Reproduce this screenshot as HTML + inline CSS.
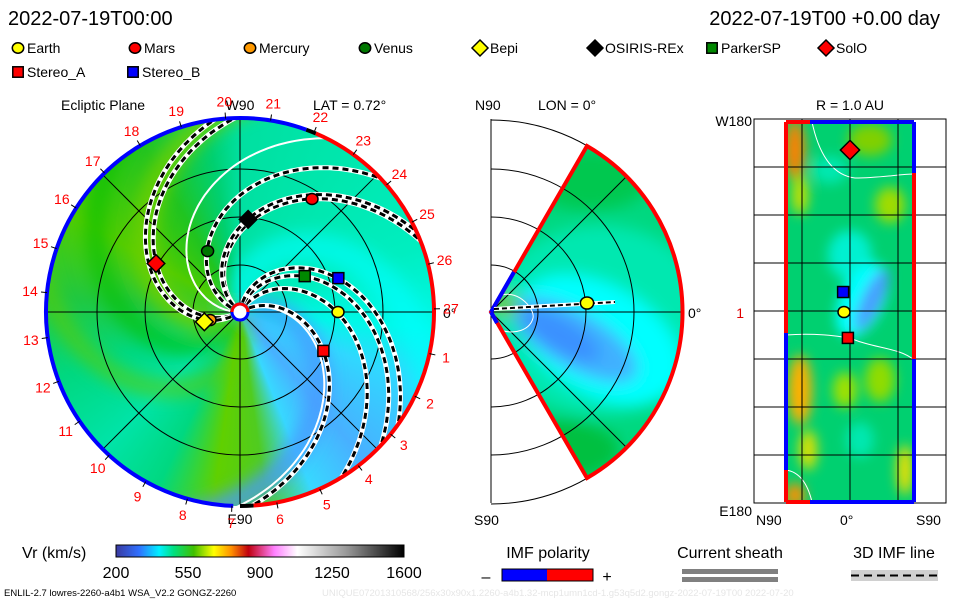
<!DOCTYPE html>
<html><head><meta charset="utf-8">
<style>
body{margin:0;background:#fff;width:960px;height:600px;overflow:hidden;font-family:"Liberation Sans",sans-serif}
svg text{font-family:"Liberation Sans",sans-serif}
</style></head>
<body>
<svg id="chart" width="960" height="600" viewBox="0 0 960 600" xmlns="http://www.w3.org/2000/svg">
<defs>
  <clipPath id="diskClip"><circle cx="240" cy="312" r="194"/></clipPath>
  <clipPath id="wedgeClip"><path d="M491,312 L587,146 A192,192 0 0 1 587,478 Z"/></clipPath>
  <clipPath id="rectClip"><rect x="786" y="122" width="128" height="380"/></clipPath>
  <filter id="blur8" x="-50%" y="-50%" width="200%" height="200%"><feGaussianBlur stdDeviation="8"/></filter>
  <filter id="blur5" x="-50%" y="-50%" width="200%" height="200%"><feGaussianBlur stdDeviation="6"/></filter>
  <linearGradient id="vrGrad" x1="0" x2="1" y1="0" y2="0">
    <stop offset="0" stop-color="#3a3aa0"/><stop offset="0.08" stop-color="#3070ff"/>
    <stop offset="0.15" stop-color="#00f0ff"/><stop offset="0.2" stop-color="#00e080"/>
    <stop offset="0.27" stop-color="#40c000"/><stop offset="0.34" stop-color="#ffff00"/>
    <stop offset="0.4" stop-color="#ff9000"/><stop offset="0.46" stop-color="#c00010"/>
    <stop offset="0.55" stop-color="#ff80ff"/><stop offset="0.63" stop-color="#ffffff"/>
    <stop offset="0.8" stop-color="#999"/><stop offset="1" stop-color="#000"/>
  </linearGradient>
</defs>

<text x="8" y="25" font-size="20">2022-07-19T00:00</text>
<text x="940" y="25" font-size="20" text-anchor="end">2022-07-19T00 +0.00 day</text>

<g id="legend" font-size="14"></g>

<g>
  <text x="61" y="110" font-size="14">Ecliptic Plane</text>
  <text x="313" y="110" font-size="14">LAT = 0.72°</text>
  <text x="240" y="110" font-size="14" text-anchor="middle">W90</text>
  <text x="240" y="524" font-size="14" text-anchor="middle">E90</text>
  <text x="443" y="318" font-size="14">0°</text>
  <g clip-path="url(#diskClip)">
    <foreignObject x="46" y="118" width="388" height="388">
      <div xmlns="http://www.w3.org/1999/xhtml" style="width:388px;height:388px;background:conic-gradient(from 0deg,#00e0a0 0deg,#00e8b0 40deg,#00eec0 70deg,#00f8e8 95deg,#30d8ff 112deg,#48b0ff 140deg,#38d8ff 158deg,#50cc20 172deg,#60d000 188deg,#00d880 205deg,#00e4a8 225deg,#00d880 250deg,#20c840 275deg,#50cc00 300deg,#20c420 330deg,#00d070 350deg,#00e0a0 360deg)"></div>
    </foreignObject>
    <g id="bands" filter="url(#blur8)"></g>
  </g>
  <g id="diskOverlay"></g>
</g>

<g>
  <text x="475" y="110" font-size="14">N90</text>
  <text x="538" y="110" font-size="14">LON = 0°</text>
  <text x="474" y="525" font-size="14">S90</text>
  <text x="688" y="318" font-size="14">0°</text>
  <g clip-path="url(#wedgeClip)">
    <rect x="490" y="140" width="200" height="345" fill="#00d880"/>
    <g filter="url(#blur8)">
      <ellipse cx="600" cy="320" rx="110" ry="95" fill="#00e8b0"/>
      <ellipse cx="600" cy="340" rx="90" ry="55" fill="#00ffff" transform="rotate(30 600 340)"/>
      <ellipse cx="575" cy="340" rx="70" ry="28" fill="#40b0ff" transform="rotate(30 575 340)"/>
      <ellipse cx="560" cy="335" rx="45" ry="16" fill="#3a90ff" transform="rotate(30 560 335)"/>
      <ellipse cx="560" cy="450" rx="60" ry="30" fill="#00c040"/>
      <ellipse cx="590" cy="180" rx="60" ry="30" fill="#00c850"/>
      <ellipse cx="505" cy="305" rx="14" ry="10" fill="#70c800"/>
    </g>
  </g>
  <g id="merOverlay"></g>
</g>

<g>
  <text x="850" y="110" font-size="14" text-anchor="middle">R = 1.0 AU</text>
  <text x="752" y="126" font-size="14" text-anchor="end">W180</text>
  <text x="752" y="516" font-size="14" text-anchor="end">E180</text>
  <text x="744" y="318" font-size="14" fill="#e00000" text-anchor="end">1</text>
  <text x="756" y="525" font-size="14">N90</text>
  <text x="840" y="525" font-size="14">0°</text>
  <text x="916" y="525" font-size="14">S90</text>
  <rect x="754" y="119" width="192" height="384" fill="none" stroke="#000" stroke-width="1"/>
  <g clip-path="url(#rectClip)">
    <rect x="786" y="122" width="128" height="380" fill="#00d070"/>
    <g filter="url(#blur5)">
      <ellipse cx="795" cy="150" rx="10" ry="30" fill="#ff8000"/>
      <ellipse cx="800" cy="195" rx="8" ry="20" fill="#c8e000"/>
      <ellipse cx="870" cy="140" rx="22" ry="16" fill="#80d000"/>
      <ellipse cx="890" cy="205" rx="15" ry="18" fill="#a0dc00"/>
      <ellipse cx="830" cy="170" rx="18" ry="14" fill="#00e8b0"/>
      <ellipse cx="850" cy="255" rx="22" ry="25" fill="#00f0d0"/>
      <ellipse cx="862" cy="300" rx="22" ry="40" fill="#00ffff" transform="rotate(25 862 300)"/>
      <ellipse cx="872" cy="300" rx="10" ry="34" fill="#4a9cff" transform="rotate(25 872 300)"/>
      <ellipse cx="800" cy="390" rx="12" ry="35" fill="#ffb000"/>
      <ellipse cx="808" cy="450" rx="9" ry="20" fill="#e0e000"/>
      <ellipse cx="845" cy="390" rx="12" ry="18" fill="#a0e000"/>
      <ellipse cx="880" cy="380" rx="15" ry="22" fill="#90dc00"/>
      <ellipse cx="905" cy="470" rx="8" ry="25" fill="#f0e000"/>
      <ellipse cx="860" cy="440" rx="14" ry="18" fill="#00e8b0"/>
      <ellipse cx="795" cy="495" rx="10" ry="12" fill="#ff9000"/>
    </g>
    <path d="M812,122 C818,150 830,175 855,178 C880,178 900,174 914,174" fill="none" stroke="#fff" stroke-width="1"/>
    <path d="M786,335 C810,333 840,335 855,340 C875,348 900,348 914,360" fill="none" stroke="#fff" stroke-width="1"/>
    <path d="M786,470 C800,472 808,485 812,502" fill="none" stroke="#fff" stroke-width="1"/>
  </g>
  <g id="shellGrid" stroke="#000" stroke-width="1"></g>
  <g stroke-width="4" fill="none">
    <line x1="786" y1="122" x2="810" y2="122" stroke="#ff0000"/>
    <line x1="810" y1="122" x2="914" y2="122" stroke="#0000ff"/>
    <line x1="786" y1="502" x2="810" y2="502" stroke="#ff0000"/>
    <line x1="810" y1="502" x2="914" y2="502" stroke="#0000ff"/>
    <line x1="786" y1="122" x2="786" y2="333" stroke="#ff0000"/>
    <line x1="786" y1="333" x2="786" y2="470" stroke="#0000ff"/>
    <line x1="786" y1="470" x2="786" y2="502" stroke="#ff0000"/>
    <line x1="914" y1="122" x2="914" y2="173" stroke="#0000ff"/>
    <line x1="914" y1="173" x2="914" y2="359" stroke="#ff0000"/>
    <line x1="914" y1="359" x2="914" y2="502" stroke="#0000ff"/>
  </g>
  <g id="shellMarkers"></g>
</g>

<g>
  <text x="22" y="558" font-size="16">Vr (km/s)</text>
  <rect x="116" y="545" width="288" height="12" fill="url(#vrGrad)" stroke="#000" stroke-width="1"/>
  <g id="cbTicks" font-size="16" text-anchor="middle"></g>
</g>
<g>
  <text x="548" y="558" font-size="16" text-anchor="middle">IMF polarity</text>
  <text x="486" y="582" font-size="16" text-anchor="middle">–</text>
  <rect x="502" y="569" width="45" height="12" fill="#0000ff"/>
  <rect x="547" y="569" width="46" height="12" fill="#ff0000"/>
  <rect x="502" y="569" width="91" height="12" fill="none" stroke="#000"/>
  <text x="607" y="582" font-size="16" text-anchor="middle">+</text>
</g>
<g>
  <text x="730" y="558" font-size="16" text-anchor="middle">Current sheath</text>
  <rect x="682" y="569" width="96" height="5" fill="#808080"/>
  <rect x="682" y="577" width="96" height="5" fill="#808080"/>
</g>
<g>
  <text x="894" y="558" font-size="16" text-anchor="middle">3D IMF line</text>
  <rect x="851" y="570" width="87" height="11" fill="#d0d0d0"/>
  <line x1="851" y1="575.5" x2="938" y2="575.5" stroke="#000" stroke-width="2" stroke-dasharray="8,5"/>
</g>
<text x="4" y="596" font-size="9.5">ENLIL-2.7 lowres-2260-a4b1 WSA_V2.2 GONGZ-2260</text>
<text x="322" y="596" font-size="9.5" fill="#e6e6e6">UNIQUE07201310568/256x30x90x1.2260-a4b1.32-mcp1umn1cd-1.g53q5d2.gongz-2022-07-19T00   2022-07-20</text>
</svg>
<script>
// ---- data ----
const bodyNames = ['Earth','Mars','Mercury','Venus','Bepi','OSIRIS-REx','ParkerSP','SolO','Stereo_A','Stereo_B'];
const bodyRadii = [98,134,31,69,37,93,74,97,92,104];
const bodyAngles = [0,57.5,195,118,195.5,85,29,150,-25,19];
const bodyShapes = ['circle','circle','circle','circle','diamond','diamond','square','diamond','square','square'];
const bodyColors = ['#ffff00','#ff0000','#ff9900','#007700','#ffff00','#000000','#008800','#ff0000','#ff0000','#0000ff'];
const imfLineAngles = [58,138,208,30,73,81,141,160,214];
const sheathAngles = [180,26];
const colorbarTicks = [200,550,900,1250,1600];
const carringtonDays = [1,2,3,4,5,6,7,8,9,10,11,12,13,14,15,16,17,18,19,20,21,22,23,24,25,26,27];
const shellBodies = ['SolO','Stereo_B','Earth','Stereo_A'];
const shellLon = [-60,-7.4,0,9.6];
const shellLat = [0,-2.3,-2,-0.7];

const NS='http://www.w3.org/2000/svg';
const cx=240, cy=312, R=194, WIND=0.6;
function mk(tag,attrs,parent){const e=document.createElementNS(NS,tag);for(const k in attrs)e.setAttribute(k,attrs[k]);parent.appendChild(e);return e;}
function pol(r,a){const t=a*Math.PI/180;return [cx+r*Math.cos(t), cy-r*Math.sin(t)];}
function spiral(a0,r0,r1){let d='';for(let r=r0;r<=r1;r+=2){const p=pol(r,a0-WIND*r);d+=(d?'L':'M')+p[0].toFixed(1)+','+p[1].toFixed(1);}return d;}
function marker(shape,x,y,color,parent,s){
  s=s||1;let e;
  if(shape==='circle') e=mk('ellipse',{cx:x,cy:y,rx:6*s,ry:5.5*s,fill:color,stroke:'#000','stroke-width':1.5},parent);
  else if(shape==='square') e=mk('rect',{x:x-5.5*s,y:y-5.5*s,width:11*s,height:11*s,fill:color,stroke:'#000','stroke-width':1.5},parent);
  else e=mk('polygon',{points:`${x},${y-8*s} ${x+8*s},${y} ${x},${y+8*s} ${x-8*s},${y}`,fill:color,stroke:'#000','stroke-width':1.5},parent);
  return e;
}

const bands=document.getElementById('bands');
const b1=mk('path',{d:spiral(215,5,260),fill:'none',stroke:'#70d000','stroke-width':26,opacity:0.8},bands);


const b2=mk('path',{d:spiral(22,5,260),fill:'none',stroke:'#4898ff','stroke-width':22,opacity:0.8},bands);


const b3=mk('path',{d:spiral(100,5,260),fill:'none',stroke:'#00ffff','stroke-width':30,opacity:0.6},bands);


const b4=mk('path',{d:spiral(250,5,260),fill:'none',stroke:'#00c000','stroke-width':20,opacity:0.6},bands);


const b5=mk('path',{d:spiral(290,5,260),fill:'none',stroke:'#60cc00','stroke-width':18,opacity:0.6},bands);



const ov=document.getElementById('diskOverlay');
[47,95,143].forEach(r=>{const c=mk('circle',{cx,cy,r,fill:'none',stroke:'#000','stroke-width':1},ov);

});
[0,45,90,135].forEach(a=>{const p=pol(R,a),q=pol(R,a+180);const l=mk('line',{x1:p[0],y1:p[1],x2:q[0],y2:q[1],stroke:'#000','stroke-width':1},ov);

});
const gClip=mk('g',{'clip-path':'url(#diskClip)'},ov);
sheathAngles.forEach(a=>{const p=mk('path',{d:spiral(a,10,260),fill:'none',stroke:'#fff','stroke-width':2},gClip);

});
imfLineAngles.forEach(a=>{const d=spiral(a,10,260);
const w=mk('path',{d,fill:'none',stroke:'#fff','stroke-width':5},gClip);


const k=mk('path',{d,fill:'none',stroke:'#000','stroke-width':3,'stroke-dasharray':'6,4'},gClip);

});
function arc(a1,a2,color,name){const p=pol(R,a1),q=pol(R,a2);const large=Math.abs(a2-a1)>180?1:0;
const e=mk('path',{d:`M${p[0]},${p[1]} A${R},${R} 0 ${large} 0 ${q[0]},${q[1]}`,fill:'none',stroke:color,'stroke-width':4},ov);

}
arc(70,268,'#0000ff','negative-polarity-rim');
arc(-86,67,'#ff0000','positive-polarity-rim');
arc(67,70,'#000','rim-boundary');arc(-90,-86,'#000','rim-boundary');
carringtonDays.forEach(k=>{const a=-12.4-(k-1)*360/27;const p=pol(R,a),q=pol(R+6,a),t=pol(R+17,a);
mk('line',{x1:p[0],y1:p[1],x2:q[0],y2:q[1],stroke:'#000','stroke-width':1},ov);
const tx=mk('text',{x:t[0],y:t[1]+5,'font-size':14,fill:'#ff0000','text-anchor':'middle'},ov);tx.textContent=k;

});
const sun=mk('circle',{cx,cy,r:8,fill:'#fff',stroke:'#0000ff','stroke-width':3},ov);


mk('path',{d:`M${cx-8},${cy} A8,8 0 0 1 ${cx+8},${cy}`,fill:'none',stroke:'#ff0000','stroke-width':3},ov);
bodyNames.forEach((n,i)=>{const p=pol(bodyRadii[i],bodyAngles[i]);const m=marker(bodyShapes[i],p[0],p[1],bodyColors[i],ov,bodyShapes[i]==='diamond'?1.1:1);

});

const lg=document.getElementById('legend');
const legendX=[18,135,250,365,480,595,712,826,18,133];
const legendY=[48,48,48,48,48,48,48,48,72,72];
bodyNames.forEach((n,i)=>{const g=mk('g',{},lg);


marker(bodyShapes[i],legendX[i],legendY[i],bodyColors[i],g,bodyShapes[i]==='diamond'?1:0.95);
const t=mk('text',{x:legendX[i]+(bodyShapes[i]==='diamond'?10:9),y:legendY[i]+5},g);t.textContent=n;});

const mo=document.getElementById('merOverlay');
mk('line',{x1:491,y1:119,x2:491,y2:503,stroke:'#000'},mo);
[47,95,143,192].forEach(r=>{
const e=mk('path',{d:`M491,${312-r} A${r},${r} 0 0 1 491,${312+r}`,fill:'none',stroke:'#000','stroke-width':1},mo);

});
mk('line',{x1:491,y1:312,x2:683,y2:312,stroke:'#000'},mo);
mk('line',{x1:491,y1:312,x2:627,y2:176,stroke:'#000'},mo);
mk('line',{x1:491,y1:312,x2:627,y2:448,stroke:'#000'},mo);
mk('path',{d:'M501,295 C520,290 535,310 533,318 C530,330 515,335 500,330',fill:'none',stroke:'#fff','stroke-width':1},mo);
mk('path',{d:'M491,312 L587,146 A192,192 0 0 1 587,478 Z',fill:'none',stroke:'#ff0000','stroke-width':4},mo);
mk('path',{d:'M491,312 L514,272 M491,312 L497,323',fill:'none',stroke:'#0000ff','stroke-width':4},mo);
mk('line',{x1:494,y1:309,x2:615,y2:302,stroke:'#fff','stroke-width':4},mo);
mk('line',{x1:494,y1:309,x2:615,y2:302,stroke:'#000','stroke-width':2,'stroke-dasharray':'5,3'},mo);
const me=marker('circle',587,303,'#ffff00',mo,1.1);



const sg=document.getElementById('shellGrid');
[802,850,898].forEach(x=>mk('line',{x1:x,y1:119,x2:x,y2:503},sg));
[167,215,263,311,359,407,455].forEach(y=>mk('line',{x1:754,y1:y,x2:946,y2:y},sg));
const sm=document.getElementById('shellMarkers');
shellBodies.forEach((n,i)=>{const j=bodyNames.indexOf(n);const x=850+shellLat[i]*3, y=312+shellLon[i]*2.7;
const m=marker(bodyShapes[j],x,y,bodyColors[j],sm,bodyShapes[j]==='diamond'?1.2:1);

});

const cb=document.getElementById('cbTicks');
colorbarTicks.forEach(v=>{const x=116+(v-200)/1400*288;const t=mk('text',{x,y:578},cb);t.textContent=v;

});
</script>
</body></html>
